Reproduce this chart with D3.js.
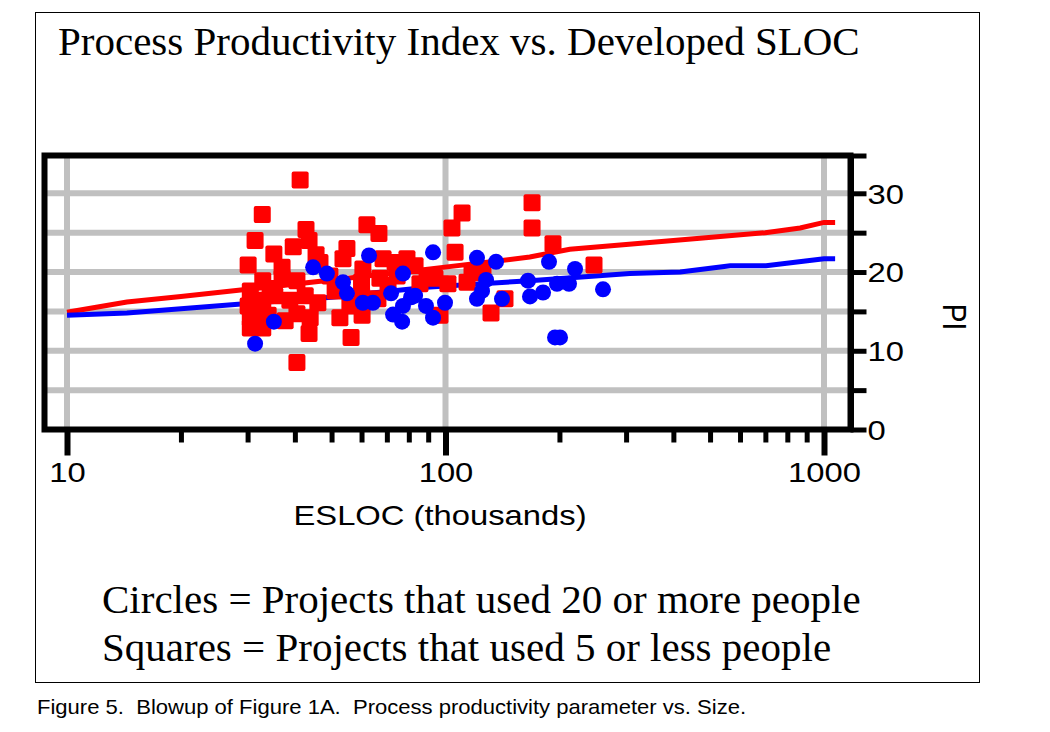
<!DOCTYPE html>
<html>
<head>
<meta charset="utf-8">
<script src="https://cdnjs.cloudflare.com/ajax/libs/d3/7.8.5/d3.min.js"></script>
<style>
  body { margin: 0; background: #fff; }
  .sans { font-family: "Liberation Sans", Arial, sans-serif; }
  .serif { font-family: "Liberation Serif", "Times New Roman", serif; }
</style>
</head>
<body>
<div id="chart"></div>
<script>
// squares = projects with 5 or fewer people  [ESLOC (thousands), PI]
const squarePoints = [
  [41.3, 31.7], [32.8, 27.3], [31.4, 24.0], [30.1, 20.9], [30.5, 17.6], [32.9, 18.9],
  [30.5, 14.2], [32.9, 12.9], [30.5, 12.9], [32.9, 16.1], [35.2, 22.3], [37.0, 20.6],
  [37.0, 19.2], [35.4, 17.0], [34.0, 14.5], [30.1, 15.7], [42.8, 25.4], [43.6, 24.0],
  [39.6, 23.2], [45.5, 22.2], [46.6, 21.2], [40.5, 18.9], [40.5, 14.7], [43.9, 14.2],
  [43.6, 12.2], [40.5, 8.5], [46.0, 16.1], [38.8, 16.4], [42.6, 17.0], [62.0, 26.0],
  [66.7, 24.9], [54.9, 23.0], [53.6, 21.7], [68.4, 21.7], [79.1, 21.7], [60.5, 20.4],
  [67.1, 19.2], [60.2, 16.8], [66.3, 16.6], [52.6, 14.2], [60.2, 14.5], [56.3, 11.7],
  [74.5, 19.5], [73.6, 21.2], [51.1, 17.6], [55.9, 15.7], [89.4, 19.3], [104, 25.6],
  [110.6, 27.5], [106, 22.5], [101.5, 18.5], [114, 18.7], [96.7, 14.5], [93.8, 19.2],
  [83.1, 20.8], [125.6, 20.2], [143.6, 16.6], [131.9, 14.8], [169.3, 28.8], [169.3, 25.6],
  [192.3, 23.6], [246.8, 20.9], [117.5, 19.9], [32.0, 14.8], [34.4, 17.9], [37.7, 13.8],
  [31.4, 16.4], [49.5, 19.5], [60.0, 18.7], [70.5, 18.3], [85.6, 18.5]
];

// circles = projects with 20 or more people
const circlePoints = [
  [31.4, 10.9], [35.2, 13.7], [44.7, 20.6], [48.6, 19.8], [53.6, 18.7], [54.9, 17.3],
  [60.5, 16.1], [64.3, 16.1], [62.8, 22.1], [77.2, 19.8], [71.8, 17.3], [72.7, 14.6],
  [76.8, 13.7], [81.1, 16.8], [77.2, 15.7], [88.8, 15.7], [92.7, 14.2], [99.7, 16.1],
  [92.7, 22.5], [121.1, 21.8], [136.0, 21.3], [128.0, 19.0], [121.1, 16.6], [141.0, 16.6],
  [165.2, 18.9], [167.2, 16.9], [181.0, 17.4], [197.1, 18.5], [212.0, 18.5], [187.7, 21.3],
  [219.9, 20.4], [260.7, 17.8], [194.7, 11.7], [200.7, 11.7], [83.1, 17.0], [124.9, 17.6]
];

// trend lines
const squareTrend = [
  [10, 14.9], [14.4, 16.2], [20, 16.9], [30, 17.8], [50, 19.0], [91, 20.4], [167, 21.9],
  [213, 22.9], [300, 23.5], [470, 24.3], [700, 25.0], [865, 25.6], [1000, 26.3], [1070, 26.3]
];
const circleTrend = [
  [10, 14.5], [14.4, 14.8], [30, 16.0], [50, 16.8], [91, 18.1], [167, 18.9], [307, 19.8],
  [417, 20.0], [565, 20.8], [703, 20.8], [1000, 21.7], [1070, 21.7]
];

const xMajorTicks = [10, 100, 1000];
const xMinorTicks = [20, 30, 40, 50, 60, 70, 80, 90, 200, 300, 400, 500, 600, 700, 800, 900];
const yTicks = [0, 5, 10, 15, 20, 25, 30];
const yGrid = [5, 10, 15, 20, 25, 30];
const yMax = 34.8;

const title = 'Process Productivity Index vs. Developed SLOC';
const legendLines = [
  'Circles = Projects that used 20 or more people',
  'Squares = Projects that used 5 or less people'
];
const caption = 'Figure 5.\u00a0\u00a0Blowup of Figure 1A.\u00a0\u00a0Process productivity parameter vs. Size.';

const box = { left: 44.5, right: 850.5, top: 155.5, bottom: 429.5 };
const stretch = 1.17; // chart text in the original is a bit wide

const x = d3.scaleLog().domain([10, 1000]).range([67, 824]);
const y = d3.scaleLinear().domain([0, yMax]).range([box.bottom, box.top]);

const svg = d3.select('#chart')
  .append('svg')
  .attr('width', 1050)
  .attr('height', 732);

svg.append('rect')
  .attr('x', 35.5).attr('y', 12.5)
  .attr('width', 944).attr('height', 670)
  .attr('fill', 'none').attr('stroke', '#000').attr('stroke-width', 1);

svg.append('text')
  .attr('class', 'serif')
  .attr('x', 58).attr('y', 55)
  .style('font-size', '41px')
  .text(title);

svg.selectAll('.legend')
  .data(legendLines)
  .enter().append('text')
    .attr('class', 'legend serif')
    .attr('x', 102)
    .attr('y', (d, i) => 613 + i * 48)
    .style('font-size', '41px')
    .text(d => d);

svg.append('text')
  .attr('class', 'sans')
  .attr('transform', 'translate(37,714) scale(1.05,1)')
  .style('font-size', '21px')
  .text(caption);

// grid
svg.append('g')
  .selectAll('line')
  .data(yGrid)
  .enter().append('line')
    .attr('x1', box.left).attr('x2', box.right)
    .attr('y1', d => y(d)).attr('y2', d => y(d))
    .attr('stroke', '#c0c0c0').attr('stroke-width', 6);

svg.append('g')
  .selectAll('line')
  .data(xMajorTicks)
  .enter().append('line')
    .attr('x1', d => x(d)).attr('x2', d => x(d))
    .attr('y1', box.top).attr('y2', box.bottom)
    .attr('stroke', '#c0c0c0').attr('stroke-width', 6);

// trend lines
const line = d3.line()
  .x(d => x(d[0]))
  .y(d => y(d[1]));

svg.append('path')
  .datum(squareTrend)
  .attr('d', line)
  .attr('fill', 'none').attr('stroke', '#ff0000').attr('stroke-width', 5);

svg.append('path')
  .datum(circleTrend)
  .attr('d', line)
  .attr('fill', 'none').attr('stroke', '#0000ff').attr('stroke-width', 5);

// points
svg.append('g')
  .selectAll('rect')
  .data(squarePoints)
  .enter().append('rect')
    .attr('x', d => x(d[0]) - 8.5)
    .attr('y', d => y(d[1]) - 8.5)
    .attr('width', 17).attr('height', 17)
    .attr('rx', 2)
    .attr('fill', '#ff0000');

svg.append('g')
  .selectAll('circle')
  .data(circlePoints)
  .enter().append('circle')
    .attr('cx', d => x(d[0]))
    .attr('cy', d => y(d[1]))
    .attr('r', 8)
    .attr('fill', '#0000ff');

// frame of the plot
svg.append('rect')
  .attr('x', box.left).attr('y', box.top)
  .attr('width', box.right - box.left)
  .attr('height', box.bottom - box.top)
  .attr('fill', 'none').attr('stroke', '#000').attr('stroke-width', 6);

// right axis
const yAxis = d3.axisRight(y)
  .tickValues(yTicks.concat([yMax]))
  .tickSize(16)
  .tickSizeOuter(0)
  .tickFormat(d => (d % 10 === 0 ? d : ''));

const gy = svg.append('g')
  .attr('transform', 'translate(' + box.right + ',0)')
  .call(yAxis);

gy.select('.domain').attr('stroke-width', 6);
gy.selectAll('.tick line').attr('stroke-width', 5);
gy.selectAll('.tick text')
  .attr('class', 'sans')
  .attr('x', 0)
  .attr('dy', '0.35em')
  .attr('transform', 'translate(17,0) scale(' + stretch + ',1)')
  .attr('fill', '#000')
  .style('font-size', '28px');

// bottom axis
const gxMinor = svg.append('g')
  .attr('transform', 'translate(0,' + box.bottom + ')')
  .call(d3.axisBottom(x).tickValues(xMinorTicks).tickSize(13).tickFormat(''));
gxMinor.select('.domain').remove();
gxMinor.selectAll('.tick line').attr('stroke-width', 5);

const gx = svg.append('g')
  .attr('transform', 'translate(0,' + box.bottom + ')')
  .call(d3.axisBottom(x).tickValues(xMajorTicks).tickSize(26).tickFormat(d3.format('d')));
gx.select('.domain').remove();
gx.selectAll('.tick line').attr('stroke-width', 6);
gx.selectAll('.tick text')
  .attr('class', 'sans')
  .attr('y', 0)
  .attr('dy', 0)
  .attr('transform', 'translate(0,52) scale(' + stretch + ',1)')
  .attr('fill', '#000')
  .style('font-size', '28px');

svg.append('text')
  .attr('class', 'sans')
  .attr('text-anchor', 'middle')
  .attr('transform', 'translate(440,525) scale(' + stretch + ',1)')
  .style('font-size', '28px')
  .text('ESLOC (thousands)');

svg.append('text')
  .attr('class', 'sans')
  .attr('text-anchor', 'middle')
  .attr('transform', 'translate(943,317) scale(' + stretch + ',1) rotate(90)')
  .style('font-size', '28px')
  .text('PI');
</script>
</body>
</html>
